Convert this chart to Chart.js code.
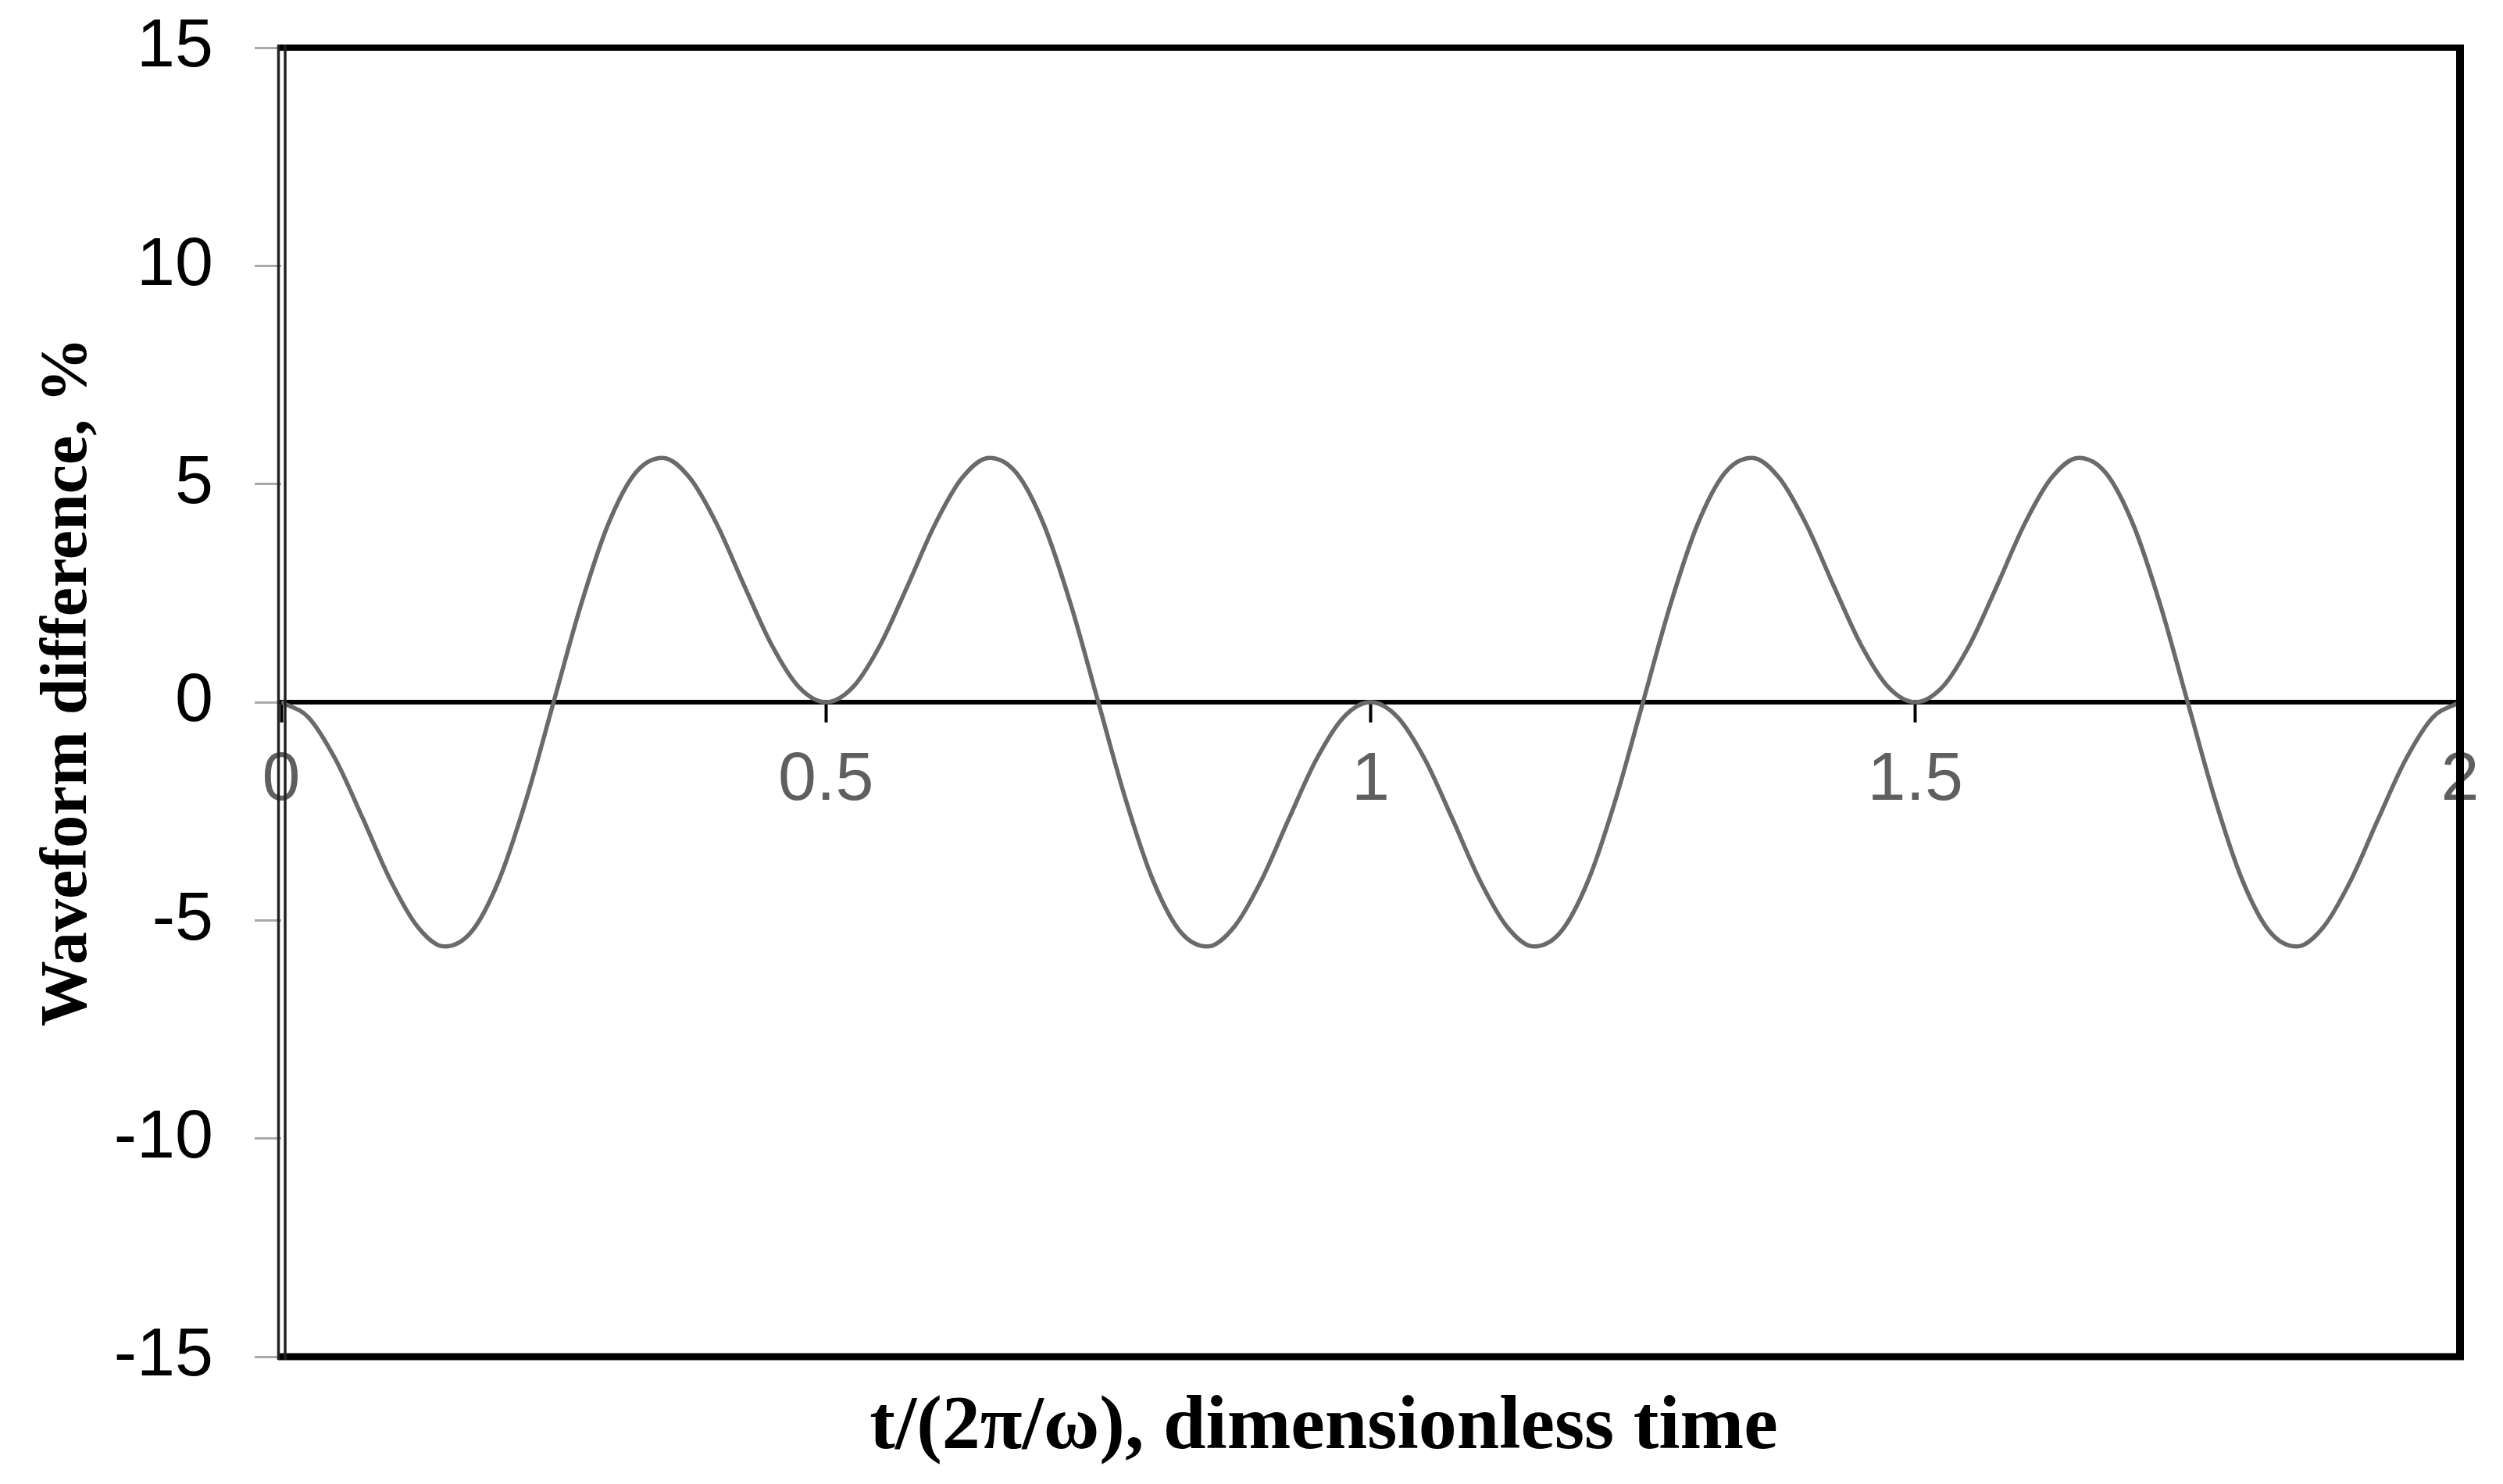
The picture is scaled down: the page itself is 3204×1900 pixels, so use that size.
<!DOCTYPE html>
<html>
<head>
<meta charset="utf-8">
<script src="https://cdn.jsdelivr.net/npm/chart.js@4.4.1/dist/chart.umd.min.js"></script>
<style>
  html, body { margin: 0; padding: 0; background: #ffffff; }
  #wrap { width: 3204px; height: 1900px; position: relative; }
</style>
</head>
<body>
<div id="wrap"><canvas id="c"></canvas></div>
<script>
// Dimensionless time t/(2π/ω)
const times = [
  0, 0.025, 0.05, 0.075, 0.1, 0.125, 0.15, 0.175, 0.2, 0.225,
  0.25, 0.275, 0.3, 0.325, 0.35, 0.375, 0.4, 0.425, 0.45, 0.475,
  0.5, 0.525, 0.55, 0.575, 0.6, 0.625, 0.65, 0.675, 0.7, 0.725,
  0.75, 0.775, 0.8, 0.825, 0.85, 0.875, 0.9, 0.925, 0.95, 0.975,
  1, 1.025, 1.05, 1.075, 1.1, 1.125, 1.15, 1.175, 1.2, 1.225,
  1.25, 1.275, 1.3, 1.325, 1.35, 1.375, 1.4, 1.425, 1.45, 1.475,
  1.5, 1.525, 1.55, 1.575, 1.6, 1.625, 1.65, 1.675, 1.7, 1.725,
  1.75, 1.775, 1.8, 1.825, 1.85, 1.875, 1.9, 1.925, 1.95, 1.975,
  2
];
// Waveform difference, %
const waveformDiff = [
  0, -0.35, -1.32, -2.67, -4.07, -5.14, -5.60, -5.25, -4.07, -2.22,
  0, 2.22, 4.07, 5.25, 5.60, 5.14, 4.07, 2.67, 1.32, 0.35,
  0, 0.35, 1.32, 2.67, 4.07, 5.14, 5.60, 5.25, 4.07, 2.22,
  0, -2.22, -4.07, -5.25, -5.60, -5.14, -4.07, -2.67, -1.32, -0.35,
  0, -0.35, -1.32, -2.67, -4.07, -5.14, -5.60, -5.25, -4.07, -2.22,
  0, 2.22, 4.07, 5.25, 5.60, 5.14, 4.07, 2.67, 1.32, 0.35,
  0, 0.35, 1.32, 2.67, 4.07, 5.14, 5.60, 5.25, 4.07, 2.22,
  0, -2.22, -4.07, -5.25, -5.60, -5.14, -4.07, -2.67, -1.32, -0.35,
  0
];
const xTickValues = [0, 0.5, 1, 1.5, 2];
const xTickLabels = ['0', '0.5', '1', '1.5', '2'];
const yTickValues = [15, 10, 5, 0, -5, -10, -15];
const yTickLabels = ['15', '10', '5', '0', '-5', '-10', '-15'];
const xTitle = 't/(2π/ω), dimensionless time';
const yTitle = 'Waveform difference, %';

const points = times.map((t, i) => ({ x: t, y: waveformDiff[i] }));

const framePlugin = {
  id: 'frame',
  afterLayout(chart) {
    // axis titles in the original sit slightly off the plot centre
    const xb = chart.scales.xb;
    if (xb) { xb.right = xb.right - 120; }
    const y = chart.scales.y;
    if (y) { y.top = y.top - 26; y.bottom = y.bottom - 26; }
  },
  afterDraw(chart) {
    const { ctx, chartArea: a } = chart;
    ctx.save();
    ctx.strokeStyle = '#000';
    ctx.lineWidth = 8;
    ctx.beginPath(); ctx.moveTo(a.left - 4, a.top); ctx.lineTo(a.right + 5, a.top); ctx.stroke();
    ctx.lineWidth = 9;
    ctx.beginPath(); ctx.moveTo(a.left - 4, a.bottom); ctx.lineTo(a.right + 5, a.bottom); ctx.stroke();
    ctx.lineWidth = 10;
    ctx.beginPath(); ctx.moveTo(a.right, a.top - 4); ctx.lineTo(a.right, a.bottom + 4); ctx.stroke();
    ctx.lineWidth = 3.5;
    ctx.strokeStyle = '#222';
    ctx.beginPath(); ctx.moveTo(a.left - 3.5, a.top - 4); ctx.lineTo(a.left - 3.5, a.bottom + 4); ctx.stroke();
    ctx.beginPath(); ctx.moveTo(a.left + 5, a.top - 4); ctx.lineTo(a.left + 5, a.bottom + 4); ctx.stroke();
    ctx.restore();
  }
};

new Chart(document.getElementById('c'), {
  type: 'line',
  data: {
    datasets: [{
      data: points,
      borderColor: '#6a6a6a',
      borderWidth: 5.5,
      pointRadius: 0,
      cubicInterpolationMode: 'monotone',
      fill: false
    }]
  },
  options: {
    responsive: true,
    maintainAspectRatio: false,
    animation: false,
    devicePixelRatio: 1,
    layout: { padding: { left: 46, right: 55, top: 61, bottom: 0 } },
    plugins: { legend: { display: false }, tooltip: { enabled: false } },
    scales: {
      x: {
        type: 'linear',
        position: { y: 0 },
        min: 0, max: 2,
        afterBuildTicks(scale) { scale.ticks = xTickValues.map(v => ({ value: v })); },
        afterFit(scale) { scale.paddingLeft = 0; scale.paddingRight = 0; },
        ticks: {
          color: '#5f5f5f',
          font: { family: 'Liberation Sans, Arial, sans-serif', size: 88 },
          padding: 25,
          maxRotation: 0,
          autoSkip: false,
          callback: (v) => xTickLabels[xTickValues.indexOf(v)]
        },
        grid: { display: true, drawOnChartArea: false, drawTicks: true, tickLength: 23, tickColor: '#000', tickWidth: 4 },
        border: { display: true, color: '#000', width: 6 }
      },
      xb: {
        type: 'linear',
        axis: 'x',
        position: 'bottom',
        min: 0, max: 2,
        ticks: { display: false },
        grid: { display: false, drawTicks: false },
        border: { display: false },
        afterFit(scale) { scale.height = 163; scale.paddingLeft = 0; scale.paddingRight = 0; },
        title: {
          display: true,
          text: xTitle,
          color: '#000',
          font: { family: 'Liberation Serif, Times New Roman, serif', size: 98, weight: 'bold', lineHeight: 1 },
          padding: { top: 0, bottom: 22 }
        }
      },
      y: {
        type: 'linear',
        position: 'left',
        min: -15, max: 15,
        afterBuildTicks(scale) { scale.ticks = yTickValues.map(v => ({ value: v })); },
        afterFit(scale) { scale.width = 314; scale.paddingTop = 40; scale.paddingBottom = 40; },
        ticks: {
          color: '#000',
          font: { family: 'Liberation Sans, Arial, sans-serif', size: 88 },
          padding: 53,
          callback: (v) => yTickLabels[yTickValues.indexOf(v)]
        },
        grid: { display: true, drawOnChartArea: false, drawTicks: true, tickLength: 34, tickColor: '#a8a8a8', tickWidth: 3 },
        border: { display: false },
        title: {
          display: true,
          text: yTitle,
          color: '#000',
          font: { family: 'Liberation Serif, Times New Roman, serif', size: 84, weight: 'bold', lineHeight: 1 },
          padding: { top: 0, bottom: 0 }
        }
      }
    }
  },
  plugins: [framePlugin]
});
</script>
</body>
</html>
